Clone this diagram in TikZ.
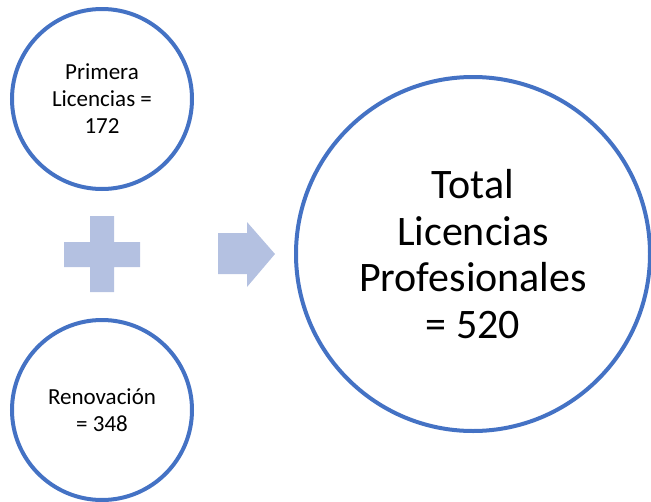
\documentclass[tikz,border=0pt]{standalone}
\usepackage{fontspec}
\setmainfont{Carlito}
\usetikzlibrary{positioning}
\definecolor{ring}{HTML}{4472C4}
\definecolor{soft}{HTML}{B4C1E1}

\begin{document}
\begin{tikzpicture}[x=1pt, y=-1pt,
  smallcirc/.style={circle, draw=ring, line width=4pt, minimum size=180pt,
              align=center, font=\fontsize{23}{27}\selectfont},
  bigcirc/.style={circle, draw=ring, line width=4pt, minimum size=354pt,
              align=center, font=\fontsize{42}{46.5}\selectfont}
]
  \useasboundingbox (0,0) rectangle (651,501);
  \node[smallcirc] (first) at (102,99) {Primera\\Licencias =\\172};
  \node[smallcirc] (renew) at (102,410) {Renovación\\= 348};
  \node[bigcirc] (total) at (473,254) {Total\\Licencias\\Profesionales\\= 520};
  % plus sign
  \fill[soft] (90,216) -- (114,216) -- (114,242) -- (140,242) -- (140,267)
    -- (114,267) -- (114,292) -- (90,292) -- (90,267) -- (64,267)
    -- (64,242) -- (90,242) -- cycle;
  % arrow
  \fill[soft] (218,233) -- (247,233) -- (247,222) -- (275,254) -- (247,287)
    -- (247,274) -- (218,274) -- cycle;
\end{tikzpicture}
\end{document}
